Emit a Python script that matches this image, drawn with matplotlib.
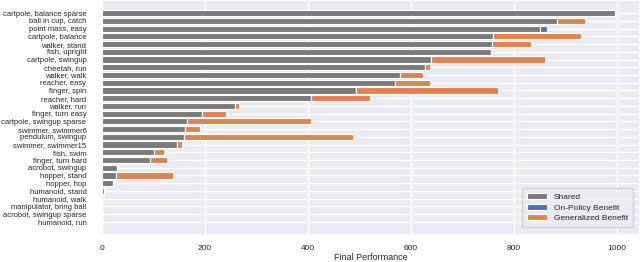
import matplotlib
matplotlib.use("Agg")
import matplotlib.pyplot as plt
import seaborn as sns
import numpy as np

tasks = ["cartpole, balance sparse", "ball in cup, catch", "point mass, easy", "cartpole, balance",
         "walker, stand", "fish, upright", "cartpole, swingup", "cheetah, run", "walker, walk",
         "reacher, easy", "finger, spin", "reacher, hard", "walker, run", "finger, turn easy",
         "cartpole, swingup sparse", "swimmer, swimmer6", "pendulum, swingup", "swimmer, swimmer15",
         "fish, swim", "finger, turn hard", "acrobot, swingup", "hopper, stand", "hopper, hop",
         "humanoid, stand", "humanoid, walk", "manipulator, bring ball", "acrobot, swingup sparse",
         "humanoid, run"]
shared = [996, 883, 851, 759, 757, 755, 639, 628, 580, 570, 493, 407, 258, 195,
          165, 161, 159, 146, 102, 94, 30, 28, 21, 5, 1, 0.5, 0.5, 0.5]
onpolicy = [0, 0, 13, 0, 0, 0, 0, 0, 0, 0, 0, 0, 0, 0,
            0, 0, 0, 0, 0, 0, 0, 0, 0, 0, 0, 0, 0, 0]
generalized = [0, 55, 0, 172, 76, 0, 221, 9, 43, 67, 277, 114, 9, 46,
               241, 30, 329, 10, 18, 32, 2, 110, 3, 0, 0, 0, 0, 0]

sns.set_theme(style="darkgrid")
plt.rcParams['font.family'] = ['Liberation Sans', 'DejaVu Sans']

fig = plt.figure(figsize=(6.4, 2.62), dpi=100)
ax = fig.add_axes([0.159, 0.103, 0.841, 0.897])

y = np.arange(len(tasks))
shared_a = np.array(shared)
onp_a = np.array(onpolicy)
gen_a = np.array(generalized)
h = 0.8
ax.barh(y, shared_a, height=h, color='#7a7a7a', edgecolor='white', linewidth=0.8, label='Shared')
ax.barh(y, onp_a, left=shared_a, height=h, color='#4c72b0', edgecolor='white', linewidth=0.8,
        label='On-Policy Benefit')
ax.barh(y, gen_a, left=shared_a + onp_a, height=h, color='#dd8452', edgecolor='white', linewidth=0.8,
        label='Generalized Benefit')

ax.set_yticks(y)
ax.set_yticklabels(tasks, fontsize=5.5)
ax.set_ylim(len(tasks) - 1 + 1.7, -1.7)
ax.set_xlim(0, 1045)
ax.set_xticks([0, 200, 400, 600, 800, 1000])
ax.tick_params(axis='x', labelsize=6, pad=1.5)
ax.tick_params(axis='y', pad=5)
ax.set_xlabel('Final Performance', fontsize=6.5, labelpad=0.5)
ax.legend(loc='lower right', fontsize=6, framealpha=0.8, borderpad=0.6, labelspacing=0.35,
          handlelength=2.4, bbox_to_anchor=(0.995, 0.015))

fig.savefig('out.png', dpi=100)
